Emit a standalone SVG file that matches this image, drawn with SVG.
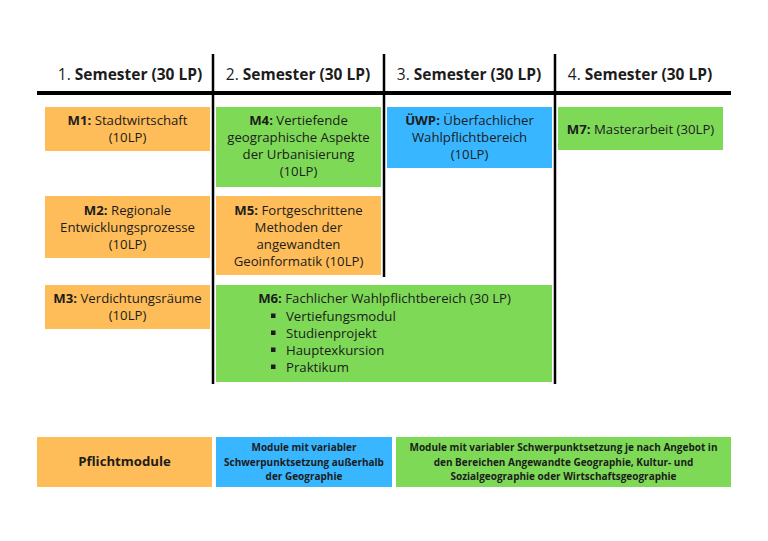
<svg xmlns="http://www.w3.org/2000/svg" width="768" height="541" viewBox="0 0 768 541">
<style>
.t{font-family:"Open Sans","Noto Sans","DejaVu Sans",sans-serif;fill:#1c1c1c}
.h{font-size:15.5px;text-anchor:middle}
.b{font-size:13.2px;text-anchor:middle}
.l{font-size:13.2px}
.lg{font-family:"Open Sans","Noto Sans",sans-serif;font-size:10px;font-weight:bold;fill:#1c1c1c;text-anchor:middle}
.bo{font-weight:bold}
.or{fill:#FFBD59}
.gr{fill:#7ED957}
.bl{fill:#38B6FF}
.rule{stroke:#000;fill:none}
</style>
<rect width="768" height="541" fill="#fff"/>
<g id="grid">
<line class="rule" x1="37" y1="93" x2="731" y2="93" stroke-width="4"/>
<line class="rule" x1="213" y1="54" x2="213" y2="384" stroke-width="2.5"/>
<line class="rule" x1="384" y1="54" x2="384" y2="277" stroke-width="2.5"/>
<line class="rule" x1="555" y1="54" x2="555" y2="384" stroke-width="2.5"/>
</g>
<g id="headers" class="t h">
<text x="130" y="80">1. <tspan class="bo">Semester (30 LP)</tspan></text>
<text x="298" y="80">2. <tspan class="bo">Semester (30 LP)</tspan></text>
<text x="469" y="80">3. <tspan class="bo">Semester (30 LP)</tspan></text>
<text x="640" y="80">4. <tspan class="bo">Semester (30 LP)</tspan></text>
</g>
<g id="M1">
<rect class="or" x="45" y="107" width="165" height="44"/>
<text class="t b" x="127.5" y="125"><tspan class="bo">M1:</tspan> Stadtwirtschaft</text>
<text class="t b" x="127.5" y="142">(10LP)</text>
</g>
<g id="M2">
<rect class="or" x="45" y="196" width="165" height="62"/>
<text class="t b" x="127.5" y="215"><tspan class="bo">M2:</tspan> Regionale</text>
<text class="t b" x="127.5" y="232">Entwicklungsprozesse</text>
<text class="t b" x="127.5" y="249">(10LP)</text>
</g>
<g id="M3">
<rect class="or" x="45" y="285" width="165" height="44"/>
<text class="t b" x="127.5" y="303"><tspan class="bo">M3:</tspan> Verdichtungsräume</text>
<text class="t b" x="127.5" y="320">(10LP)</text>
</g>
<g id="M4">
<rect class="gr" x="216" y="107" width="165" height="80"/>
<text class="t b" x="298.5" y="125"><tspan class="bo">M4:</tspan> Vertiefende</text>
<text class="t b" x="298.5" y="142">geographische Aspekte</text>
<text class="t b" x="298.5" y="159">der Urbanisierung</text>
<text class="t b" x="298.5" y="176">(10LP)</text>
</g>
<g id="M5">
<rect class="or" x="216" y="196" width="165" height="79"/>
<text class="t b" x="298.5" y="215"><tspan class="bo">M5:</tspan> Fortgeschrittene</text>
<text class="t b" x="298.5" y="232">Methoden der</text>
<text class="t b" x="298.5" y="249">angewandten</text>
<text class="t b" x="298.5" y="266">Geoinformatik (10LP)</text>
</g>
<g id="UEWP">
<rect class="bl" x="387" y="107" width="165" height="61"/>
<text class="t b" x="469.5" y="125"><tspan class="bo">ÜWP:</tspan> Überfachlicher</text>
<text class="t b" x="469.5" y="142">Wahlpflichtbereich</text>
<text class="t b" x="469.5" y="159">(10LP)</text>
</g>
<g id="M7">
<rect class="gr" x="558" y="107" width="165" height="43"/>
<text class="t b" x="640.5" y="134"><tspan class="bo">M7:</tspan> Masterarbeit (30LP)</text>
</g>
<g id="M6">
<rect class="gr" x="216" y="285" width="336" height="97"/>
<text class="t b" x="384.5" y="303"><tspan class="bo">M6:</tspan> Fachlicher Wahlpflichtbereich (30 LP)</text>
<rect x="271" y="313.5" width="4.5" height="4.5" fill="#1c1c1c"/>
<rect x="271" y="330.5" width="4.5" height="4.5" fill="#1c1c1c"/>
<rect x="271" y="347.5" width="4.5" height="4.5" fill="#1c1c1c"/>
<rect x="271" y="364.5" width="4.5" height="4.5" fill="#1c1c1c"/>
<text class="t l" x="286" y="320.5">Vertiefungsmodul</text>
<text class="t l" x="286" y="337.5">Studienprojekt</text>
<text class="t l" x="286" y="354.5">Hauptexkursion</text>
<text class="t l" x="286" y="371.5">Praktikum</text>
</g>
<g id="legend-pflicht">
<rect class="or" x="37" y="437" width="175" height="50"/>
<text class="t b bo" x="124.5" y="466">Pflichtmodule</text>
</g>
<g id="legend-ausserhalb">
<rect class="bl" x="216" y="437" width="176" height="50"/>
<text class="lg" x="304" y="451">Module mit variabler</text>
<text class="lg" x="304" y="465.5">Schwerpunktsetzung außerhalb</text>
<text class="lg" x="304" y="480">der Geographie</text>
</g>
<g id="legend-schwerpunkt">
<rect class="gr" x="396" y="437" width="335" height="50"/>
<text class="lg" x="563.5" y="451">Module mit variabler Schwerpunktsetzung je nach Angebot in</text>
<text class="lg" x="563.5" y="465.5">den Bereichen Angewandte Geographie, Kultur- und</text>
<text class="lg" x="563.5" y="480">Sozialgeographie oder Wirtschaftsgeographie</text>
</g>
</svg>
